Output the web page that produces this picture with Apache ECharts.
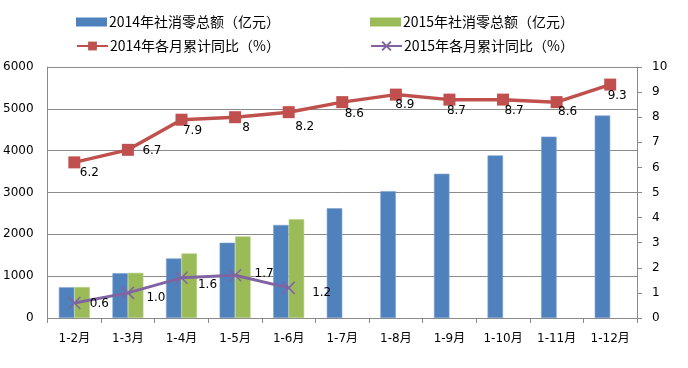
<!DOCTYPE html>
<html>
<head>
<meta charset="utf-8">
<script src="https://cdn.jsdelivr.net/npm/echarts@6/dist/echarts.min.js"></script>
<style>html,body{margin:0;padding:0;background:#fff;}#c{width:688px;height:368px;}</style>
</head>
<body>
<div id="c"></div>
<script>
var categories = ['1-2月','1-3月','1-4月','1-5月','1-6月','1-7月','1-8月','1-9月','1-10月','1-11月','1-12月'];
var sales2014 = [735, 1072, 1424, 1800, 2224, 2624, 3032, 3448, 3888, 4336, 4840];
var sales2015 = [740, 1080, 1544, 1952, 2360];
var growth2014 = [6.2, 6.7, 7.9, 8, 8.2, 8.6, 8.9, 8.7, 8.7, 8.6, 9.3];
var growth2015 = [0.6, 1.0, 1.6, 1.7, 1.2];
var growth2014Labels = ['6.2','6.7','7.9','8','8.2','8.6','8.9','8.7','8.7','8.6','9.3'];
var growth2015Labels = ['0.6','1.0','1.6','1.7','1.2'];
var leftTicks = {min: 0, max: 6000, interval: 1000};
var rightTicks = {min: 0, max: 10, interval: 1};

var names = ['2014年社消零总额（亿元）','2015年社消零总额（亿元）','2014年各月累计同比（%）','2015年各月累计同比（%）'];
var off14 = [[15,10],[24,1],[11,11],[11,11],[16,15],[12,12],[9,10],[7,11],[11,11],[11,10],[7,11]];
var off15 = [[25,1],[28,5],[26,7],[29,-1],[33,5]];
var numFont = "'DejaVu Sans','Noto Sans CJK SC',sans-serif";
var cjkFont = "'Noto Sans CJK SC',sans-serif";
var gridColor = '#8a8a8a';

function lineData(vals, labels, offs) {
  return vals.map(function (v, i) {
    return {value: v, label: {formatter: labels[i], offset: offs[i]}};
  });
}
function legend(name, left, top, isBar) {
  var l = {
    data: [name], left: left, top: top, itemWidth: 31, itemHeight: isBar ? 9 : 11, itemGap: 0,
    padding: 0, selectedMode: false,
    textStyle: {fontFamily: cjkFont, fontSize: 14, color: '#000', padding: [0, 0, 0, -3]}
  };
  if (isBar) { l.icon = 'rect'; l.itemStyle = {borderWidth: 0}; }
  return l;
}

var chart = echarts.init(document.getElementById('c'), null, {renderer: 'canvas'});
chart.setOption({
  animation: false,
  backgroundColor: '#fff',
  legend: [
    legend(names[0], 76, 15, true),
    legend(names[1], 370, 15, true),
    legend(names[2], 76, 39, false),
    legend(names[3], 370, 39, false)
  ],
  grid: {left: 47, right: 51, top: 67, bottom: 50, containLabel: false},
  xAxis: {
    type: 'category', data: categories,
    axisLine: {lineStyle: {color: gridColor, width: 1}},
    axisTick: {show: true, length: 5, lineStyle: {color: gridColor}},
    axisLabel: {fontFamily: numFont, fontSize: 12, color: '#000', margin: 15, interval: 0}
  },
  yAxis: [
    {
      type: 'value', min: leftTicks.min, max: leftTicks.max, interval: leftTicks.interval,
      axisLine: {show: true, lineStyle: {color: gridColor}},
      axisTick: {show: false},
      splitLine: {lineStyle: {color: gridColor, width: 1}},
      axisLabel: {fontFamily: numFont, fontSize: 12, color: '#000', margin: 14,
        formatter: function (v) { return String(v); }}
    },
    {
      type: 'value', min: rightTicks.min, max: rightTicks.max, interval: rightTicks.interval,
      position: 'right',
      axisLine: {show: true, lineStyle: {color: gridColor}},
      axisTick: {show: true, length: 5, lineStyle: {color: gridColor}},
      splitLine: {show: false},
      axisLabel: {fontFamily: numFont, fontSize: 12, color: '#000', margin: 15,
        formatter: function (v) { return String(v); }}
    }
  ],
  series: [
    {
      name: names[0], type: 'bar', data: sales2014, barWidth: 15.5, barGap: '0%',
      itemStyle: {color: '#4F81BD', borderColor: '#7fa3d1', borderWidth: 0.6}
    },
    {
      name: names[1], type: 'bar', data: sales2015, barWidth: 15.5, barGap: '0%',
      itemStyle: {color: '#9BBB59', borderColor: '#b7cf86', borderWidth: 0.6}
    },
    {
      name: names[2], type: 'line', yAxisIndex: 1,
      data: lineData(growth2014, growth2014Labels, off14),
      symbol: 'rect', symbolSize: 12, z: 5,
      lineStyle: {color: '#C0504D', width: 3.5},
      itemStyle: {color: '#C0504D'},
      label: {show: true, position: 'inside', fontFamily: numFont, fontSize: 12, color: '#000'}
    },
    {
      name: names[3], type: 'line', yAxisIndex: 1,
      data: lineData(growth2015, growth2015Labels, off15),
      symbol: 'path://M0,0L10,10M10,0L0,10', symbolSize: 12, z: 6,
      lineStyle: {color: '#8064A2', width: 3},
      itemStyle: {color: '#8064A2', borderColor: '#8064A2', borderWidth: 1.5},
      label: {show: true, position: 'inside', fontFamily: numFont, fontSize: 12, color: '#000'}
    }
  ]
});
</script>
</body>
</html>
